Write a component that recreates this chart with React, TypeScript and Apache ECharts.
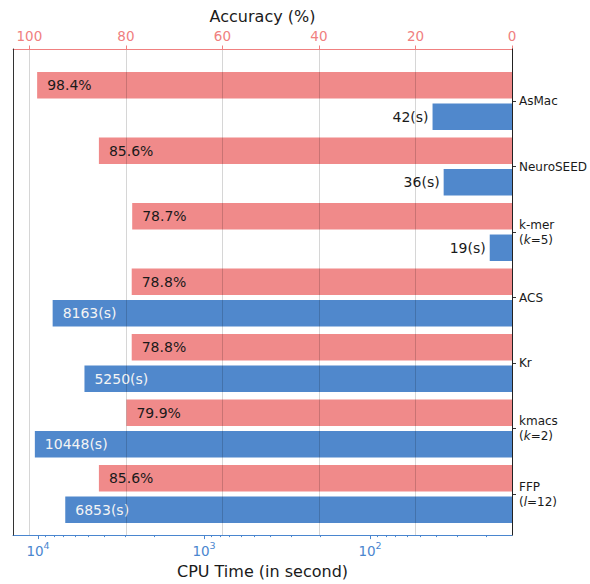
import React, { useEffect, useRef } from 'react';
import * as echarts from 'echarts';

// ---- data ----
const methods = ['AsMac', 'NeuroSEED', 'k-mer\n(k=5)', 'ACS', 'Kr', 'kmacs\n(k=2)', 'FFP\n(l=12)'];
const accuracy = [98.4, 85.6, 78.7, 78.8, 78.8, 79.9, 85.6];
const cpuSeconds = [42, 36, 19, 8163, 5250, 10448, 6853];
const cpuDecadeExponents = [2, 3, 4];

// ---- axis ranges ----
const ACC_MIN = 0;
const ACC_MAX = 103.4;
const CPU_LOG_MIN = Math.log10(13.95);
const CPU_LOG_MAX = Math.log10(14148);

const FONT = 'DejaVu Sans';
const RED = '#F08080';
const RED_BAR = '#F08A8A';
const BLUE = '#4A86CF';
const BLUE_BAR = '#5088CC';
const TEXT = '#1a1a1a';

const minorTicks: number[] = [];
for (let e = 0; e <= 4; e++) {
  for (let k = 2; k <= 9; k++) {
    const v = Math.log10(k * Math.pow(10, e));
    if (v > CPU_LOG_MIN && v < CPU_LOG_MAX) minorTicks.push(v);
  }
}

const methodLabel = (s: string) => s.replace(/\(([kl])=/, '({i|$1}=');

export default function App() {
  const ref = useRef<HTMLDivElement>(null);
  useEffect(() => {
    document.body.style.margin = '0';
    const chart = echarts.init(ref.current!, undefined, { renderer: 'svg' });
    const hiddenCommon = {
      show: false,
      axisLine: { onZero: false },
    };
    chart.setOption({
      animation: false,
      textStyle: { fontFamily: FONT },
      grid: [
        { left: 13, right: 78, top: 49, bottom: 40 },
        { left: 13, right: 78, top: 68.25, height: 458.5 },
      ],
      xAxis: [
        {
          gridIndex: 0,
          type: 'value',
          position: 'top',
          inverse: true,
          min: ACC_MIN,
          max: ACC_MAX,
          interval: 20,
          name: 'Accuracy (%)',
          nameLocation: 'middle',
          nameGap: 20,
          nameTextStyle: { fontSize: 16, color: TEXT, fontFamily: FONT },
          axisLine: { show: true, onZero: false, lineStyle: { color: RED, width: 1 } },
          axisTick: { show: true, length: 3.5, lineStyle: { color: RED } },
          axisLabel: { color: RED, fontSize: 13.5, margin: 6, showMaxLabel: false, fontFamily: FONT },
          splitLine: {
            show: true,
            showMinLine: false,
            showMaxLine: false,
            lineStyle: { color: 'rgba(0,0,0,0.16)', width: 1 },
          },
          z: 5,
        },
        {
          gridIndex: 0,
          type: 'value',
          position: 'bottom',
          inverse: true,
          min: CPU_LOG_MIN,
          max: CPU_LOG_MAX,
          name: 'CPU Time (in second)',
          nameLocation: 'middle',
          nameGap: 24,
          nameTextStyle: { fontSize: 16, color: TEXT, fontFamily: FONT },
          axisLine: { show: true, onZero: false, lineStyle: { color: BLUE, width: 1 } },
          axisTick: { show: true, length: 4, customValues: cpuDecadeExponents, lineStyle: { color: BLUE } },
          axisLabel: {
            customValues: cpuDecadeExponents,
            margin: 5,
            formatter: (v: number) => `{b|10}{s|${Math.round(v)}}`,
            rich: {
              b: { fontSize: 13.5, lineHeight: 18, color: BLUE, fontFamily: FONT, verticalAlign: 'bottom' },
              s: { fontSize: 9.5, lineHeight: 10, color: BLUE, fontFamily: FONT, verticalAlign: 'top' },
            },
          },
          splitLine: { show: false },
          z: 5,
        },
        {
          gridIndex: 0,
          type: 'value',
          position: 'bottom',
          inverse: true,
          min: CPU_LOG_MIN,
          max: CPU_LOG_MAX,
          axisLine: { show: false, onZero: false },
          axisTick: { show: true, length: 2, customValues: minorTicks, lineStyle: { color: BLUE } },
          axisLabel: { show: false },
          splitLine: { show: false },
          z: 5,
        },
        { gridIndex: 1, type: 'value', inverse: true, min: ACC_MIN, max: ACC_MAX, ...hiddenCommon },
        { gridIndex: 1, type: 'value', inverse: true, min: CPU_LOG_MIN, max: CPU_LOG_MAX, ...hiddenCommon },
      ],
      yAxis: [
        {
          gridIndex: 0,
          type: 'value',
          min: 0,
          max: 1,
          position: 'left',
          axisLine: { show: true, onZero: false, lineStyle: { color: '#333' } },
          axisTick: { show: false },
          axisLabel: { show: false },
          splitLine: { show: false },
          z: 6,
        },
        {
          gridIndex: 0,
          type: 'value',
          min: 0,
          max: 1,
          position: 'right',
          axisLine: { show: true, onZero: false, lineStyle: { color: '#222' } },
          axisTick: { show: false },
          axisLabel: { show: false },
          splitLine: { show: false },
          z: 6,
        },
        {
          gridIndex: 1,
          type: 'category',
          data: methods,
          inverse: true,
          position: 'right',
          axisLine: { show: false, onZero: false },
          axisTick: { show: true, alignWithLabel: true, length: 4, lineStyle: { color: '#333' } },
          axisLabel: {
            interval: 0,
            formatter: methodLabel,
            align: 'left',
            margin: 7,
            fontSize: 12,
            lineHeight: 15,
            color: TEXT,
            fontFamily: FONT,
            rich: {
              i: { fontStyle: 'italic', fontSize: 12, lineHeight: 15, color: TEXT, fontFamily: FONT },
            },
          },
          splitLine: { show: false },
        },
      ],
      series: [
        {
          type: 'bar',
          name: 'Accuracy',
          xAxisIndex: 3,
          yAxisIndex: 2,
          data: accuracy,
          barWidth: 26.5,
          barGap: '19%',
          itemStyle: { color: RED_BAR },
          label: {
            show: true,
            position: 'insideLeft',
            distance: 10,
            formatter: (p: any) => `${Number(p.value).toFixed(1)}%`,
            color: TEXT,
            fontSize: 14,
            fontFamily: FONT,
          },
        },
        {
          type: 'bar',
          name: 'CPU',
          xAxisIndex: 4,
          yAxisIndex: 2,
          data: cpuSeconds.map((s) => ({
            value: Math.log10(s),
            label:
              s >= 1000
                ? { position: 'insideLeft', color: '#f4f4f4', distance: 10 }
                : { position: 'left', color: TEXT, distance: 4 },
          })),
          barWidth: 26.5,
          barGap: '19%',
          itemStyle: { color: BLUE_BAR },
          label: {
            show: true,
            formatter: (p: any) => `${cpuSeconds[p.dataIndex]}(s)`,
            fontSize: 14,
            fontFamily: FONT,
          },
        },
      ],
    });
    return () => chart.dispose();
  }, []);
  return <div ref={ref} style={{ width: 590, height: 584 }} />;
}
